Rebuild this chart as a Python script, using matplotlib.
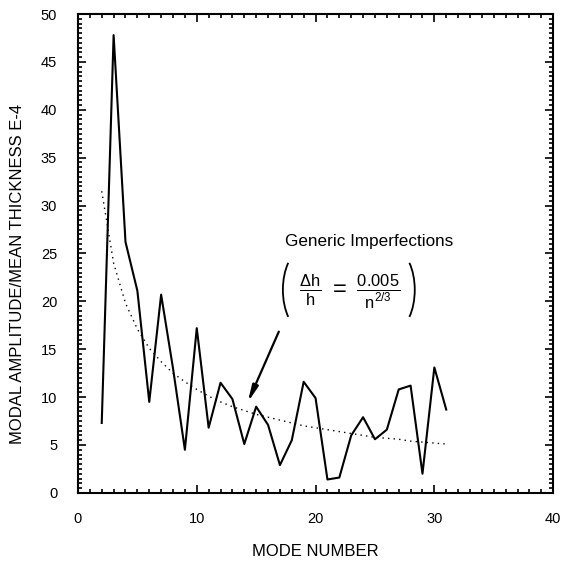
import numpy as np
import matplotlib
matplotlib.use('Agg')
import matplotlib.pyplot as plt
from matplotlib.ticker import MultipleLocator
from matplotlib.patches import Arc

plt.rcParams['font.family'] = ['Liberation Sans', 'DejaVu Sans']
plt.rcParams['mathtext.fontset'] = 'custom'
plt.rcParams['mathtext.rm'] = 'Liberation Sans'
plt.rcParams['mathtext.it'] = 'Liberation Sans'

# measured modal amplitudes (E-4), modes 2..31
modes = list(range(2, 32))
amplitude = [7.3, 47.8, 26.2, 21.1, 9.5, 20.7, 13.0, 4.5, 17.2, 6.8,
             11.5, 9.8, 5.1, 9.0, 7.1, 2.9, 5.5, 11.6, 9.9, 1.4,
             1.6, 6.0, 7.9, 5.6, 6.6, 10.8, 11.2, 2.0, 13.1, 8.7]

# generic imperfection curve
generic = [31.5, 24.0, 19.8, 17.1, 15.1, 13.7, 12.5, 11.6, 10.8, 10.1,
           9.5, 9.0, 8.6, 8.2, 7.9, 7.6, 7.3, 7.0, 6.8, 6.6,
           6.4, 6.2, 6.0, 5.8, 5.7, 5.6, 5.4, 5.3, 5.2, 5.1]

fig = plt.figure(figsize=(5.61, 5.62), dpi=100)
ax = fig.add_axes([0.139, 0.123, 0.847, 0.852])

ax.plot(modes, amplitude, color='black', lw=1.5)
ax.plot(modes, generic, color='black', lw=1.0, linestyle=(0, (1, 3)))

ax.set_xlim(0, 40)
ax.set_ylim(0, 50)
ax.xaxis.set_major_locator(MultipleLocator(10))
ax.xaxis.set_minor_locator(MultipleLocator(1))
ax.yaxis.set_major_locator(MultipleLocator(5))
ax.yaxis.set_minor_locator(MultipleLocator(0.5))
ax.tick_params(which='both', direction='in', top=True, right=True, width=1.2)
ax.tick_params(which='major', length=6, labelsize=10.5)
ax.tick_params(axis='x', which='major', pad=14)
ax.tick_params(axis='y', which='major', pad=15)
ax.tick_params(which='minor', length=3)
for sp in ax.spines.values():
    sp.set_linewidth(1.5)

ax.set_xlabel('MODE NUMBER', fontsize=12, va='center')
ax.set_ylabel('MODAL AMPLITUDE/MEAN THICKNESS E-4', fontsize=12, va='center')
ax.yaxis.set_label_coords(-0.128, 0.457)
ax.xaxis.set_label_coords(0.5, -0.123)

# annotation
ax.text(24.5, 26.3, 'Generic Imperfections', fontsize=12.3,
        ha='center', va='center')
ax.text(22.9, 21.0,
        r'$\frac{\Delta\mathrm{h}}{\mathrm{h}}\ =\ \frac{0.005}{\mathrm{n}^{2/3}}$',
        fontsize=17, ha='center', va='center')
# thin tall brackets round the formula
ax.add_patch(Arc((18.9, 21.2), 3.3, 8.2, theta1=113, theta2=247, lw=1.3, color='black'))
ax.add_patch(Arc((26.7, 21.2), 3.3, 8.2, theta1=-67, theta2=67, lw=1.3, color='black'))
ax.annotate('', xy=(14.2, 9.2), xytext=(17.0, 17.1),
            arrowprops=dict(arrowstyle='-|>,head_width=0.15,head_length=0.8',
                            lw=1.6, color='black', mutation_scale=12))

fig.savefig('out.png', dpi=100)
